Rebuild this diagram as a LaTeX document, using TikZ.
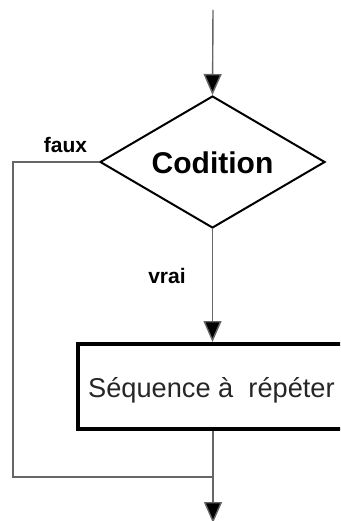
\documentclass[tikz,border=0pt]{standalone}
\usepackage{fontspec}
\setmainfont{Liberation Sans}
\usetikzlibrary{shapes.geometric,arrows.meta}
\begin{document}
\begin{tikzpicture}[x=1pt,y=-1pt,
  flow/.style={draw=black!60, line width=1.4pt},
  tip/.style={-{Triangle[length=21pt,width=18pt,fill=black]}},
  decision/.style={diamond, draw=black, line width=2pt, inner sep=0pt,
    minimum width=225pt, minimum height=132pt, aspect=1.7},
  block/.style={rectangle, draw=black, line width=4pt, inner sep=0pt,
    minimum width=290pt, minimum height=85pt},
  edgelabel/.style={font=\bfseries\fontsize{21}{24}\selectfont, inner sep=0pt}]
  \clip (0,0) rectangle (340,521);
  \fill[white] (0,0) rectangle (340,521);

  % entry, decision, loop body
  \coordinate (start) at (213,10);
  \node[decision] (cond) at (212.5,162) {};
  \node[font=\bfseries\fontsize{30}{34}\selectfont, inner sep=0pt] (condtext) at (212.5,163) {Codition};
  \node[block] (body) at (222.5,386.5) {};
  \node[anchor=base west, font=\fontsize{27.2}{30}\selectfont, inner sep=0pt, text=black!85] (bodytext) at (88,397) {Séquence à\ \ répéter};

  % joints of the bypass path
  \coordinate (corner1) at (13,162);
  \coordinate (corner2) at (13,477);
  \coordinate (join) at (213,477);
  \coordinate (exit) at (213,523);

  % connectors
  \draw[flow,tip] (start) -- (cond.north);
  \draw[flow,tip] (cond.south) -- (body.north -| cond.south);
  \draw[flow] (cond.west) -- (corner1) -- (corner2) -- (join);
  \draw[flow,tip] (body.south -| join) -- (exit);

  % branch labels
  \node[edgelabel, anchor=base] (faux) at (65.5,153) {faux};
  \node[edgelabel, anchor=base] (vrai) at (167,283) {vrai};
\end{tikzpicture}
\end{document}
